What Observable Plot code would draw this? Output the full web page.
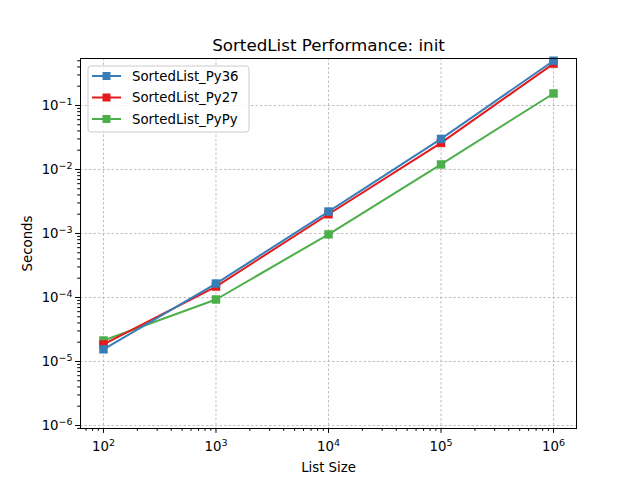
<!DOCTYPE html>
<html><head><meta charset="utf-8">
<script src="https://cdn.jsdelivr.net/npm/d3@7"></script>
<script src="https://cdn.jsdelivr.net/npm/@observablehq/plot@0.6"></script>
<style>body{margin:0;background:#fff}#chart{width:640px;height:480px}</style>
</head><body><div id="chart"></div>
<script>
const sizes = [1e2, 1e3, 1e4, 1e5, 1e6];
const py36 = [1.55e-5, 1.65e-4, 2.2e-3, 0.030, 0.50];
const py27 = [1.85e-5, 1.48e-4, 2.0e-3, 0.026, 0.45];
const pypy = [2.13e-5, 9.3e-5, 9.7e-4, 0.0120, 0.154];
const seriesNames = ["SortedList_Py36", "SortedList_Py27", "SortedList_PyPy"];
const seriesColors = ["#377eb8", "#e41a1c", "#4daf4a"];
const xTicks = [1e2, 1e3, 1e4, 1e5, 1e6];
const yTicks = [1e-6, 1e-5, 1e-4, 1e-3, 1e-2, 1e-1];

const seriesVals = [py36, py27, pypy];
const rows = [];
seriesNames.forEach((n, i) => sizes.forEach((s, j) => rows.push({series: n, size: s, t: seriesVals[i][j]})));
const drawOrder = [2, 1, 0];

const fmt = d => "10^" + Math.round(Math.log10(d));

const xMinor = [], yMinor = [];
for (let e = 1; e <= 6; e++) for (let m = 2; m <= 9; m++) xMinor.push(m * 10 ** e);
for (let e = -7; e <= 0; e++) for (let m = 2; m <= 9; m++) yMinor.push(m * 10 ** e);

const xDom = [10 ** 1.796, 10 ** 6.204];
const yDom = [10 ** -6.047, 10 ** -0.266];
const inX = v => v >= xDom[0] && v <= xDom[1];
const inY = v => v >= yDom[0] && v <= yDom[1];

const marks = [
  Plot.gridX(xTicks, {stroke: "#b0b0b0", strokeOpacity: 1, strokeWidth: 0.8, strokeDasharray: "2.5,2"}),
  Plot.gridY(yTicks, {stroke: "#b0b0b0", strokeOpacity: 1, strokeWidth: 0.8, strokeDasharray: "2.5,2"}),
  Plot.axisX(xMinor.filter(inX), {tickSize: 2.8, tickFormat: () => "", stroke: "black", label: null}),
  Plot.axisY(yMinor.filter(inY), {tickSize: 2.8, tickFormat: () => "", stroke: "black", label: null}),
  Plot.axisX(xTicks, {tickSize: 4.9, tickPadding: 8, tickFormat: fmt, fontSize: 13.3, label: "List Size", labelAnchor: "center", labelArrow: "none", labelOffset: 43}),
  Plot.axisY(yTicks, {tickSize: 4.9, tickPadding: 3, tickFormat: fmt, fontSize: 13.3, label: "Seconds", labelAnchor: "center", labelArrow: "none", labelOffset: 58}),
];
for (const i of drawOrder) {
  const d = rows.filter(r => r.series === seriesNames[i]);
  marks.push(Plot.line(d, {x: "size", y: "t", stroke: seriesColors[i], strokeWidth: 2}));
  marks.push(Plot.dot(d, {x: "size", y: "t", symbol: "square", r: 4.5, fill: seriesColors[i], stroke: seriesColors[i], strokeWidth: 0.5}));
}
marks.push(Plot.frame({stroke: "black", strokeWidth: 1}));
marks.push(Plot.text(["SortedList Performance: init"], {frameAnchor: "top", dy: -19, fontSize: 16.7, fill: "black"}));

const chart = Plot.plot({
  width: 640, height: 480,
  marginLeft: 80, marginRight: 64, marginTop: 58, marginBottom: 52,
  style: {fontFamily: "DejaVu Sans", fontSize: "13.3px", color: "black", background: "white"},
  x: {type: "log", domain: xDom},
  y: {type: "log", domain: yDom},
  marks
});
document.getElementById("chart").appendChild(chart);

const svg = d3.select(chart);
// power-of-ten tick labels with raised exponents
svg.selectAll("text").each(function () {
  const t = d3.select(this);
  const m = /^10\^(-?\d+)$/.exec(t.text());
  if (!m) return;
  t.text("");
  t.append("tspan").text("10");
  t.append("tspan").attr("font-size", "9.5px").attr("dy", "-0.5em").text(m[1].replace("-", "−"));
});

// legend
const lg = svg.append("g").attr("font-family", "DejaVu Sans").attr("font-size", 13.3).attr("text-anchor", "start");
lg.append("rect").attr("x", 88).attr("y", 66).attr("width", 161).attr("height", 66).attr("rx", 3)
  .attr("fill", "white").attr("fill-opacity", 0.8).attr("stroke", "#cccccc");
seriesNames.forEach((n, i) => {
  const y = 76 + i * 21.5;
  lg.append("line").attr("x1", 92).attr("x2", 121).attr("y1", y).attr("y2", y).attr("stroke", seriesColors[i]).attr("stroke-width", 2);
  lg.append("rect").attr("x", 102.5).attr("y", y - 4).attr("width", 8).attr("height", 8).attr("fill", seriesColors[i]);
  lg.append("text").attr("x", 132).attr("y", y).attr("dy", "0.35em").attr("fill", "black").text(n);
});
</script></body></html>
